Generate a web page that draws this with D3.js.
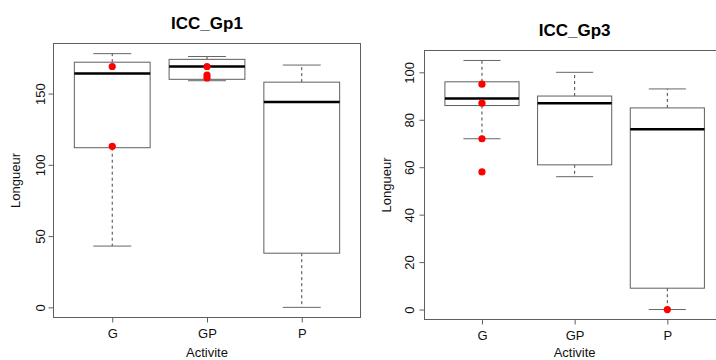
<!DOCTYPE html>
<html>
<head>
<meta charset="utf-8">
<script src="https://cdn.jsdelivr.net/npm/d3@7"></script>
<style>
  body { margin: 0; background: #fff; }
  svg { display: block; font-family: "Liberation Sans", Arial, sans-serif; }
  .frame { fill: none; stroke: #5f5f5f; stroke-width: 1; }
  .axis path.domain { display: none; }
  .axis line { stroke: #5f5f5f; }
  .axis text { font-size: 13px; fill: #111; }
</style>
</head>
<body>
<svg width="716" height="360"></svg>
<script>
// catégories sur l'axe X
const categories = ["G", "GP", "P"];

// ICC_Gp1 : résumé des boîtes (moustache basse, Q1, médiane, Q3, moustache haute)
const gp1Low = [43, 159, 0];
const gp1Q1 = [112, 160, 38];
const gp1Median = [164, 169, 144];
const gp1Q3 = [172, 174, 158];
const gp1High = [178, 176, 170];
const gp1Points = [["G", 169], ["G", 113], ["GP", 169], ["GP", 163], ["GP", 161]];
const gp1Ticks = [0, 50, 100, 150];

// ICC_Gp3
const gp3Low = [72, 56, 0];
const gp3Q1 = [86, 61, 9];
const gp3Median = [89, 87, 76];
const gp3Q3 = [96, 90, 85];
const gp3High = [105, 100, 93];
const gp3Points = [["G", 95], ["G", 87], ["G", 72], ["G", 58], ["P", 0]];
const gp3Ticks = [0, 20, 40, 60, 80, 100];

const svg = d3.select("svg");

function drawPanel(opt) {
    let boxes = categories.map((c, i) => ({
        cat: c, idx: i + 1,
        low: opt.low[i], q1: opt.q1[i], med: opt.med[i], q3: opt.q3[i], high: opt.high[i]
    }));
    // étendue des données + 4 % comme dans R
    let all = boxes.flatMap(b => [b.low, b.high]).concat(opt.points.map(p => p[1]));
    let lo = d3.min(all), hi = d3.max(all);
    let pad = (hi - lo) * 0.04;
    let scaleY = d3.scaleLinear().domain([lo - pad, hi + pad]).range([opt.bottom, opt.top]);
    let scaleX = d3.scaleLinear().domain([0.38, 3.62]).range([opt.left, opt.right]);
    let pos = c => scaleX(categories.indexOf(c) + 1);
    let unit = scaleX(1) - scaleX(0);

    let g = svg.append("g");

    // boîtes
    let box = g.selectAll(".box").data(boxes).enter().append("g");
    // moustaches en pointillés
    box.append("line")
        .attr("x1", d => scaleX(d.idx)).attr("x2", d => scaleX(d.idx))
        .attr("y1", d => scaleY(d.q3)).attr("y2", d => scaleY(d.high))
        .attr("stroke", "#444").attr("stroke-dasharray", "3,3");
    box.append("line")
        .attr("x1", d => scaleX(d.idx)).attr("x2", d => scaleX(d.idx))
        .attr("y1", d => scaleY(d.q1)).attr("y2", d => scaleY(d.low))
        .attr("stroke", "#444").attr("stroke-dasharray", "3,3");
    // barres des moustaches
    ["low", "high"].forEach(k => {
        box.append("line")
            .attr("x1", d => scaleX(d.idx - 0.2)).attr("x2", d => scaleX(d.idx + 0.2))
            .attr("y1", d => scaleY(d[k])).attr("y2", d => scaleY(d[k]))
            .attr("stroke", "#666");
    });
    box.append("rect")
        .attr("x", d => scaleX(d.idx - 0.4))
        .attr("width", 0.8 * unit)
        .attr("y", d => scaleY(d.q3))
        .attr("height", d => scaleY(d.q1) - scaleY(d.q3))
        .attr("fill", "#fff")
        .attr("stroke", "#5f5f5f");
    box.append("line")
        .attr("x1", d => scaleX(d.idx - 0.4)).attr("x2", d => scaleX(d.idx + 0.4))
        .attr("y1", d => scaleY(d.med)).attr("y2", d => scaleY(d.med))
        .attr("stroke", "#000").attr("stroke-width", 2.5);

    // points rouges
    g.selectAll(".dot").data(opt.points).enter().append("circle")
        .attr("cx", d => pos(d[0]))
        .attr("cy", d => scaleY(d[1]))
        .attr("r", 3.6)
        .attr("fill", "#ff0000");

    // cadre
    g.append("rect").attr("class", "frame")
        .attr("x", opt.left).attr("y", opt.top)
        .attr("width", opt.right - opt.left).attr("height", opt.bottom - opt.top);

    // axe Y
    let axisY = g.append("g").attr("class", "axis")
        .attr("transform", `translate(${opt.left}, 0)`)
        .call(d3.axisLeft(scaleY).tickValues(opt.ticks).tickSize(5).tickSizeOuter(0));
    axisY.selectAll("text")
        .attr("x", null).attr("dy", null)
        .attr("text-anchor", "middle")
        .attr("transform", `translate(${-opt.yLabOff}, 0) rotate(-90)`);

    // axe X
    let axisX = g.append("g").attr("class", "axis")
        .attr("transform", `translate(0, ${opt.bottom})`)
        .call(d3.axisBottom(scaleX).tickValues([1, 2, 3]).tickSize(5).tickSizeOuter(0)
            .tickFormat(d => categories[d - 1]));
    axisX.selectAll("text").attr("dy", null).attr("y", opt.xLabOff);

    // titres
    let cx = scaleX(2);
    g.append("text")
        .attr("x", cx).attr("y", opt.titleY)
        .attr("text-anchor", "middle")
        .style("font-size", "17px").style("font-weight", "bold")
        .text(opt.title);
    g.append("text")
        .attr("x", cx).attr("y", 357)
        .attr("text-anchor", "middle")
        .style("font-size", "13px").attr("fill", "#111")
        .text("Activite");
    g.append("text")
        .attr("transform", `translate(${opt.ylabX}, ${(opt.top + opt.bottom) / 2}) rotate(-90)`)
        .attr("text-anchor", "middle")
        .style("font-size", "13px").attr("fill", "#111")
        .text("Longueur");
}

drawPanel({
    title: "ICC_Gp1", low: gp1Low, q1: gp1Q1, med: gp1Median, q3: gp1Q3, high: gp1High,
    points: gp1Points, ticks: gp1Ticks,
    left: 53.5, right: 360.5, top: 43.5, bottom: 317.5,
    titleY: 29, yLabOff: 8.5, xLabOff: 20.5, ylabX: 20
});

drawPanel({
    title: "ICC_Gp3", low: gp3Low, q1: gp3Q1, med: gp3Median, q3: gp3Q3, high: gp3High,
    points: gp3Points, ticks: gp3Ticks,
    left: 424.5, right: 724.8, top: 50.5, bottom: 319.5,
    titleY: 36, yLabOff: 11, xLabOff: 20, ylabX: 391
});
</script>
</body>
</html>
